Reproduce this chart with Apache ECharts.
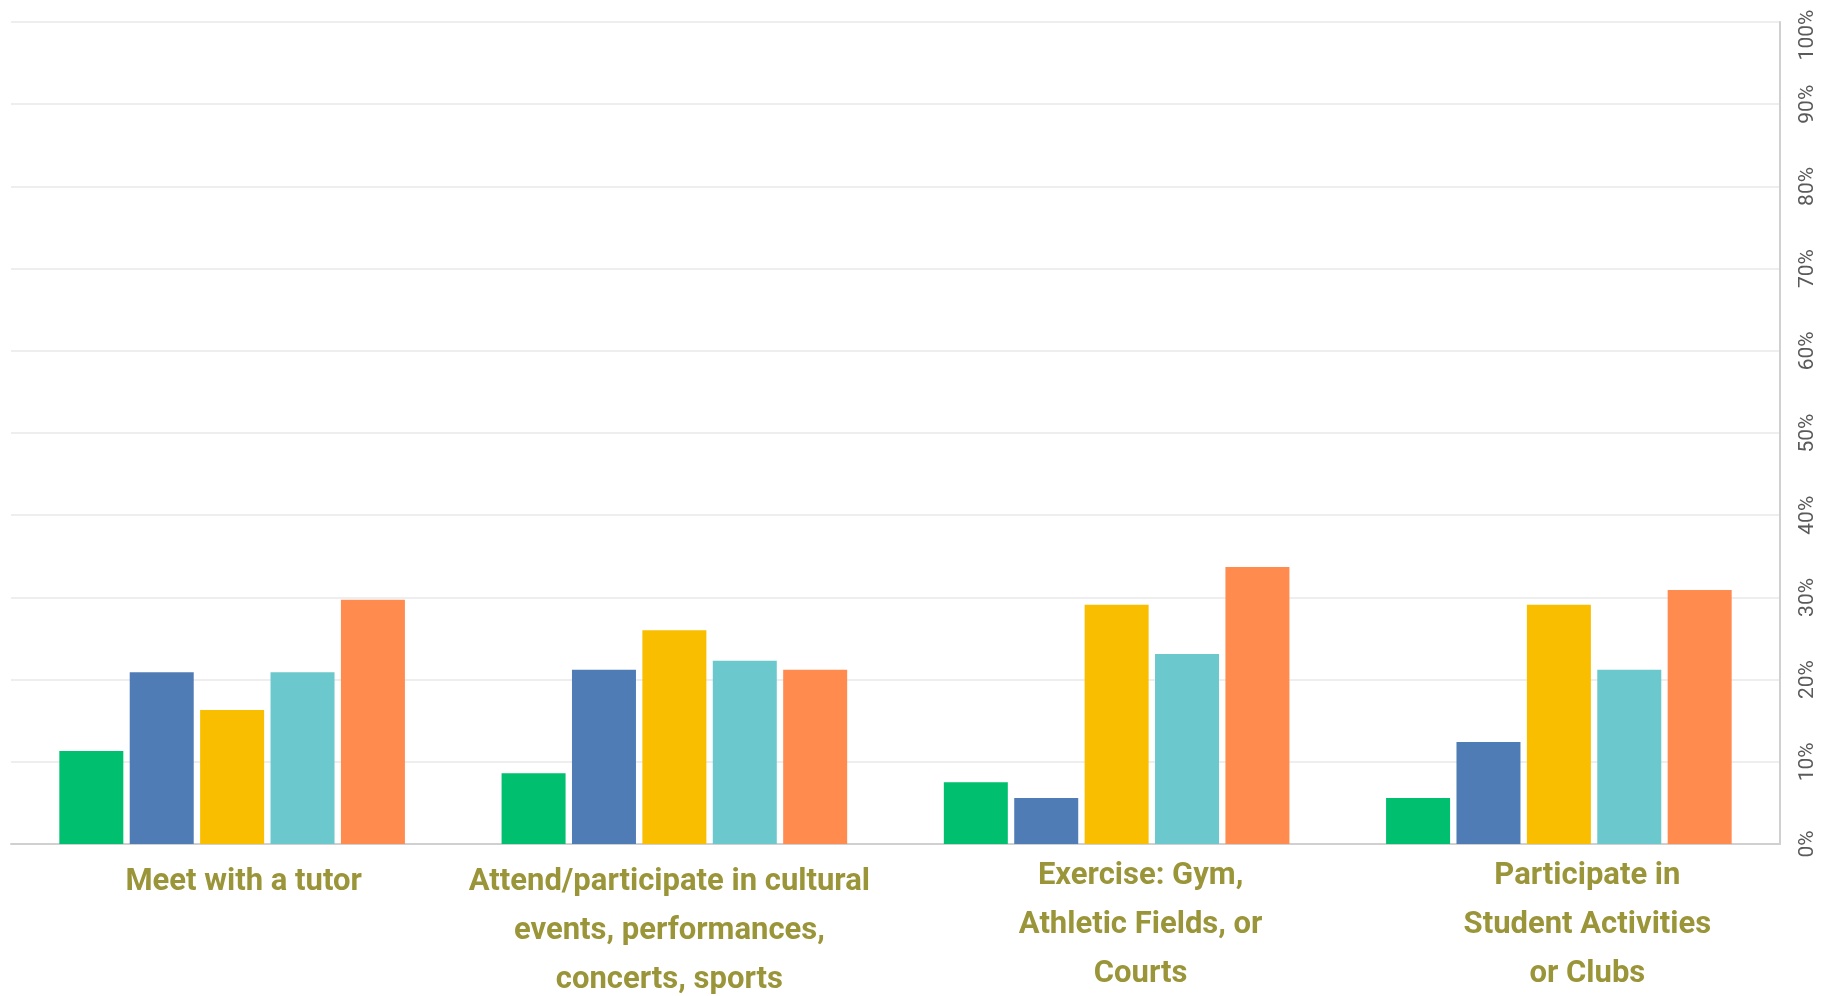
<!DOCTYPE html>
<html>
<head>
<meta charset="utf-8">
<script src="https://cdn.jsdelivr.net/npm/echarts@6/dist/echarts.min.js"></script>
<style>
html,body{margin:0;padding:0;background:#fff;}
#chart{width:1825px;height:996px;}
</style>
</head>
<body>
<div id="chart"></div>
<script>
const categories = [
  "Meet with a tutor",
  "Attend/participate in cultural\nevents, performances,\nconcerts, sports",
  "Exercise: Gym,\nAthletic Fields, or\nCourts",
  "Participate in\nStudent Activities\nor Clubs"
];
const seriesNames = ["Series 1", "Series 2", "Series 3", "Series 4", "Series 5"];
const series1 = [11.3, 8.6, 7.5, 5.6];
const series2 = [20.9, 21.2, 5.6, 12.4];
const series3 = [16.3, 26.0, 29.1, 29.1];
const series4 = [20.9, 22.3, 23.1, 21.2];
const series5 = [29.7, 21.2, 33.7, 30.9];
const yTicks = [0, 10, 20, 30, 40, 50, 60, 70, 80, 90, 100];

// styling
const colors = ["#00BF6F", "#507CB6", "#F9BE00", "#6BC8CD", "#FF8B4F"];
const labelPadding = [[6, 0, 0, 23], [6, 10, 0, 0], [0, 0, 0, 48], [0, 0, 0, 57]];
const allData = [series1, series2, series3, series4, series5];

const chart = echarts.init(document.getElementById('chart'));
chart.setOption({
  animation: false,
  grid: { left: 11, right: 45, top: 22, bottom: 152, containLabel: false, outerBoundsMode: 'none' },
  xAxis: {
    type: 'category',
    data: categories.map((c, i) => ({ value: c, textStyle: { padding: labelPadding[i] } })),
    axisLine: { show: true, lineStyle: { color: '#d0d0d0', width: 2 } },
    axisTick: { show: false },
    axisLabel: {
      interval: 0,
      color: '#9B9539',
      fontFamily: 'Roboto',
      fontWeight: 'bold',
      fontSize: 31,
      lineHeight: 49,
      margin: 8
    }
  },
  yAxis: {
    type: 'value',
    position: 'right',
    min: yTicks[0],
    max: yTicks[yTicks.length - 1],
    interval: 10,
    axisLine: { show: true, lineStyle: { color: '#d0d0d0', width: 2 } },
    axisTick: { show: false },
    splitLine: { show: true, lineStyle: { color: '#eeeeee', width: 2 } },
    axisLabel: {
      rotate: 90,
      color: '#5a5a5a',
      fontFamily: 'Roboto',
      fontSize: 21,
      margin: 17,
      formatter: v => v === 100 ? '{top|' + v + '%}' : v + '%',
      rich: { top: { fontFamily: 'Roboto', fontSize: 21, color: '#5a5a5a', padding: [0, 26, 0, 0] } }
    }
  },
  series: allData.map((d, i) => ({
    name: seriesNames[i],
    type: 'bar',
    data: d,
    barWidth: 64,
    barGap: '10%',
    itemStyle: { color: colors[i] }
  }))
});
</script>
</body>
</html>
